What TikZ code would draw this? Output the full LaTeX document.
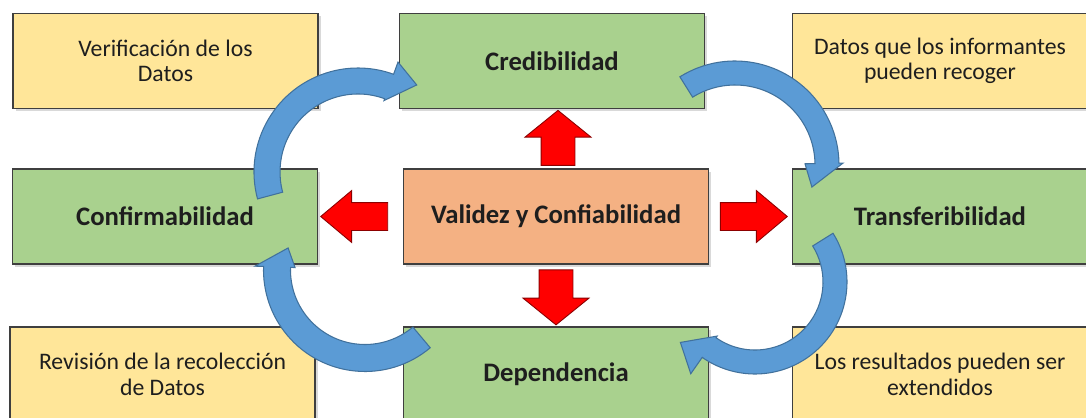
\documentclass[tikz,border=0pt]{standalone}
\usepackage{fontspec}
\setmainfont{Carlito}
\usetikzlibrary{shapes.arrows,calc,shadows}

\definecolor{boxyellow}{HTML}{FFE699}
\definecolor{boxgreen}{HTML}{A9D18E}
\definecolor{boxorange}{HTML}{F4B183}
\definecolor{boxline}{HTML}{3F3F3F}
\definecolor{arcblue}{HTML}{5B9BD5}
\definecolor{arcline}{HTML}{41719C}
\definecolor{txtdark}{HTML}{1E1E1E}

% curved block arrow: centre, radius, half width, tail angle, head angle,
% outer barb radius, inner barb radius, tip angle, tip radius
\newcommand{\curvedarrow}[9]{%
  \draw[arcarr] ($(#1)+(#4:{#2+#3})$) arc[start angle=#4, end angle=#5, radius={#2+#3}]
    -- ($(#1)+(#5:#6)$) -- ($(#1)+(#8:#9)$) -- ($(#1)+(#5:#7)$)
    -- ($(#1)+(#5:{#2-#3})$) arc[start angle=#5, end angle=#4, radius={#2-#3}] -- cycle;}

\begin{document}
\begin{tikzpicture}[
    x=0.02cm, y=0.02cm,
    base/.style={draw=boxline, line width=0.8pt, minimum width=6.1cm, minimum height=1.9cm,
      align=center, text=txtdark, drop shadow={shadow xshift=1.5pt, shadow yshift=-1.5pt, opacity=0.3}},
    infobox/.style={base, fill=boxyellow, font=\fontsize{13.5}{14.5}\selectfont},
    keybox/.style={base, fill=boxgreen, font=\fontsize{15.2}{16}\selectfont\bfseries},
    corebox/.style={base, fill=boxorange, font=\fontsize{15.2}{16}\selectfont\bfseries},
    redarr/.style={single arrow, draw=red!55!black, line width=0.5pt, fill=red, inner xsep=0pt},
    vertarr/.style={redarr, minimum height=1.1cm, inner ysep=0.33cm,
      single arrow head extend=0.32cm, single arrow tip angle=102},
    horarr/.style={redarr, minimum height=1.34cm, inner ysep=0.27cm,
      single arrow head extend=0.24cm, single arrow tip angle=80},
    arcarr/.style={draw=arcline, line width=0.6pt, fill=arcblue}
]
\useasboundingbox (0,0) rectangle (1086,417);
\clip (0,0) rectangle (1086,417);

% boxes
\node[infobox] (ver) at (165.5,356) {Verificación de los\\Datos};
\node[keybox] (cred) at (552,356) {Credibilidad};
\node[infobox, minimum width=5.9cm] (datos) at (940,356) {Datos que los informantes\\pueden recoger};
\node[keybox] (conf) at (165,200.5) {Confirmabilidad};
\node[corebox] (val) at (556,200.5) {Validez y Confiabilidad};
\node[keybox, minimum width=5.9cm] (trans) at (940,200.5) {Transferibilidad};
\node[infobox] (rev) at (162.5,42.5) {Revisión de la recolección\\de Datos};
\node[keybox] (dep) at (556,42.5) {Dependencia};
\node[infobox, minimum width=5.9cm] (res) at (940,42.5) {Los resultados pueden ser\\extendidos};

% red arrows out of the centre
\node[vertarr, rotate=90] (toCred) at ($(val.north)!.5!(cred.south)+(4,-6)$) {};
\node[vertarr, rotate=-90] (toDep) at ($(val.south)!.5!(dep.north)+(0,5)$) {};
\node[horarr, rotate=180] (toConf) at ($(conf.east)!.5!(val.west)+(2,0)$) {};
\node[horarr] (toTrans) at ($(val.east)!.5!(trans.west)+(-5,0)$) {};

% blue cycle
\coordinate (cTL) at (358,245);
\coordinate (cTR) at (735,252);
\coordinate (cBR) at (755,135);
\coordinate (cBL) at (365,147);
\curvedarrow{cTL}{91}{13}{195}{70}{117}{76}{56}{105}
\curvedarrow{cTR}{92}{12}{122}{1}{108}{70}{-16}{80}
\curvedarrow{cBR}{80}{12}{32}{-125}{112}{66}{-141}{96}
\curvedarrow{cBL}{88}{13.5}{-50}{-182}{110}{70}{-196}{80}
\end{tikzpicture}
\end{document}
